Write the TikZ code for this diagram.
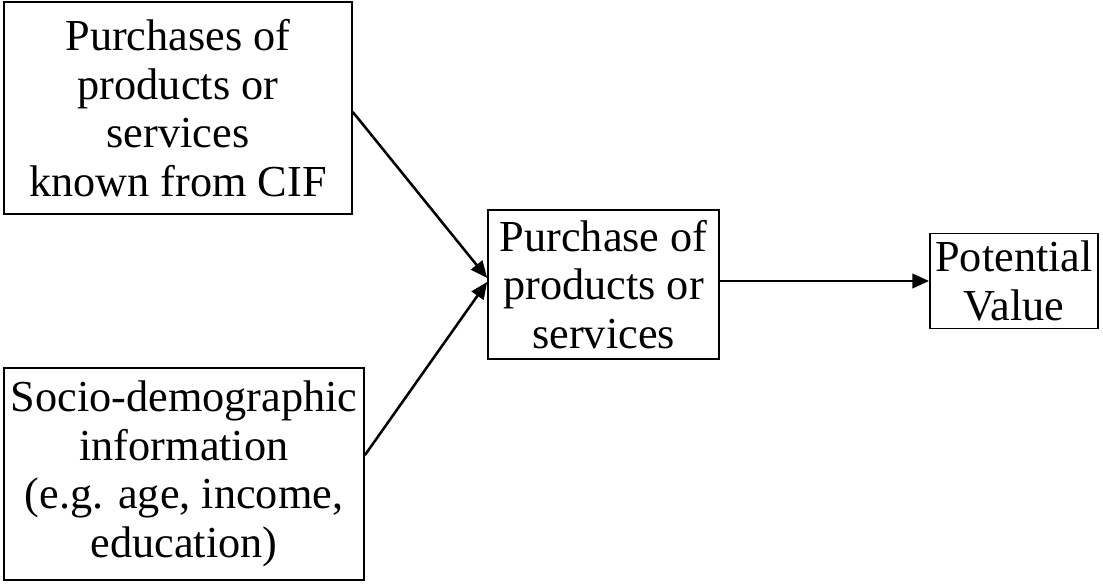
\documentclass[tikz,border=0pt]{standalone}
\usepackage{fontspec}
\setmainfont{Liberation Serif}
\usetikzlibrary{arrows.meta,positioning}

\begin{document}
\begin{tikzpicture}[
  box/.style={draw, line width=1.2pt, align=center, inner sep=2pt, font=\fontsize{31.5}{34.5}\selectfont},
  arr/.style={-{Triangle[length=4.2mm, width=3.6mm]}, line width=1.8pt}
]
\useasboundingbox (0,0) rectangle (27.575,-14.575);
\node[box, minimum width=8.7cm, minimum height=5.3cm] (cif) at (4.45,-2.7) {Purchases of\\products or\\services\\known from CIF};
\node[box, minimum width=9.0cm, minimum height=5.3cm] (socio) at (4.6,-11.85) {Socio-demographic\\information\\(e.g. age, income,\\education)};
\node[box, minimum width=5.78cm, minimum height=3.73cm] (purchase) at (15.09,-7.11) {Purchase of\\products or\\services};
\node[box, minimum width=4.2cm, minimum height=2.38cm] (value) at (25.35,-7.025) {Potential\\Value};
\draw[arr] ([yshift=-0.1cm]cif.east) -- ([yshift=0.16cm]purchase.west);
\draw[arr] ([yshift=0.47cm]socio.east) -- ([yshift=0.06cm]purchase.west);
\draw[arr] (purchase.east |- value.west) -- (value.west);
\end{tikzpicture}
\end{document}
